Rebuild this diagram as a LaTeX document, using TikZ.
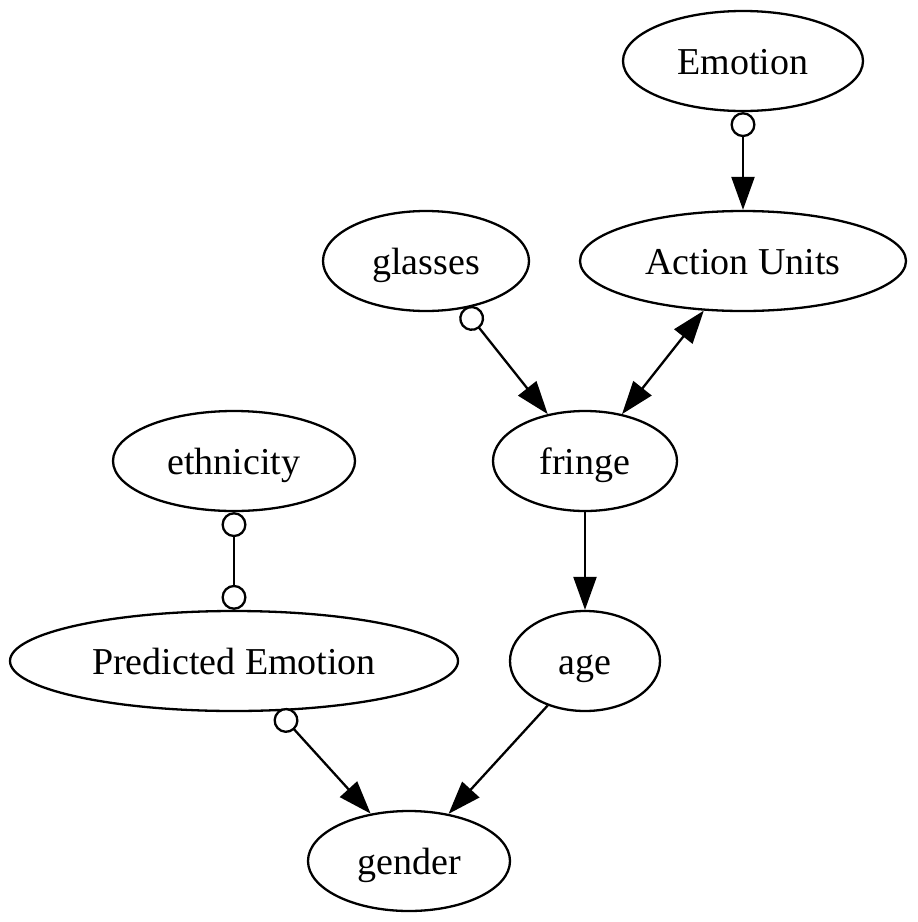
\documentclass[tikz,border=0pt]{standalone}
\usepackage{fontspec}
\setmainfont{Liberation Serif}
\usetikzlibrary{shapes.geometric,arrows.meta,positioning}

\begin{document}
\begin{tikzpicture}[x=0.5pt,y=-0.5pt,node distance=100pt,line width=1.15pt,
                    var node/.style={ellipse,draw,inner sep=0pt,minimum height=50pt,
                                     text height=17pt,text depth=4pt,
                                     font=\fontsize{19}{23}\selectfont},
                    to/.style={-{Triangle[length=16.5pt,width=11.5pt]}},
                    oto/.style={{Circle[open,length=12.5pt,fill=white]}-{Triangle[length=16.5pt,width=11.5pt]}},
                    both/.style={{Triangle[length=16.5pt,width=11.5pt]}-{Triangle[length=16.5pt,width=11.5pt]}},
                    oo/.style={{Circle[open,length=12.5pt,fill=white]}-{Circle[open,length=12.5pt,fill=white]}}]
       \useasboundingbox (0,0) rectangle (917,922);

       \node[var node,minimum width=120pt] (emotion) at (743,61) {Emotion};
       \node[var node,minimum width=163pt] (au) [below of=emotion] {Action Units};
       \node[var node,minimum width=103pt] (glasses) at (426,261) {glasses};
       \node[var node,minimum width=92pt] (fringe) at (585,461) {fringe};
       \node[var node,minimum width=121pt] (ethnicity) at (234,461) {ethnicity};
       \node[var node,minimum width=75pt] (age) [below of=fringe] {age};
       \node[var node,minimum width=224pt] (pred) [below of=ethnicity] {Predicted Emotion};
       \node[var node,minimum width=101pt] (gender) at (409,861) {gender};

       \path
         (emotion) edge [oto] (au)
         (glasses) edge [oto] (fringe)
         (au) edge [both] (fringe)
         (ethnicity) edge [oo] (pred)
         (fringe) edge [to] (age)
         (pred.-49) edge [oto] (gender.129)
         (age.-130) edge [to] (gender.50);
     \end{tikzpicture}
\end{document}
